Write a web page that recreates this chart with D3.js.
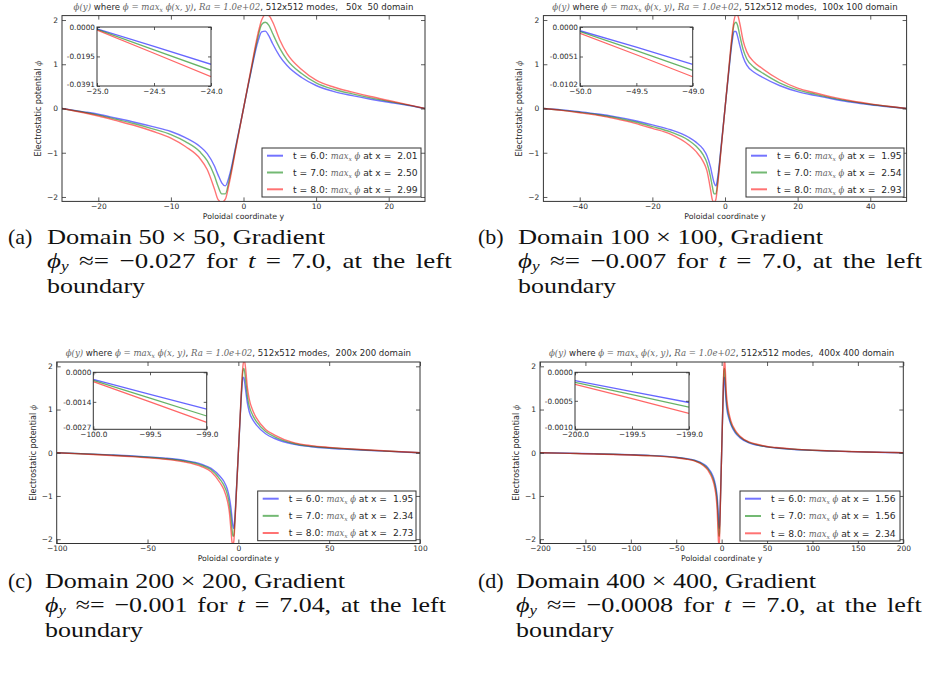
<!DOCTYPE html>
<html><head><meta charset="utf-8">
<script src="https://cdn.jsdelivr.net/npm/d3@7"></script>
<style>body{margin:0;background:#fff} text{white-space:pre}</style>
</head><body>
<script>
// ---------------- DATA ----------------
const timeLabels = ["6.0", "7.0", "8.0"];
const yTicks = [-2, -1, 0, 1, 2];

// (a) 50x50
const yA = [-25,-22,-20,-17.5,-15,-12.5,-10,-8,-6,-5,-4,-3.5,-3,-2.5,-2,-1,0,1,2,2.5,3,3.5,4,5,6,8,10,12.5,15,17.5,20,22,25];
const a_t6 = [0,-0.075,-0.13,-0.22,-0.31,-0.41,-0.52,-0.66,-0.86,-1.02,-1.3,-1.5,-1.68,-1.75,-1.55,-0.8,0,0.8,1.52,1.73,1.75,1.64,1.47,1.18,0.97,0.70,0.52,0.38,0.29,0.21,0.14,0.09,0];
const a_t7 = [0,-0.085,-0.15,-0.245,-0.345,-0.46,-0.59,-0.75,-0.98,-1.18,-1.52,-1.76,-1.93,-1.93,-1.64,-0.83,0,0.83,1.62,1.9,1.95,1.88,1.7,1.36,1.1,0.79,0.58,0.43,0.33,0.24,0.16,0.10,0];
const a_t8 = [0,-0.097,-0.17,-0.275,-0.385,-0.515,-0.67,-0.86,-1.13,-1.38,-1.82,-2.06,-2.12,-2.05,-1.72,-0.86,0,0.86,1.7,2.0,2.12,2.1,1.96,1.55,1.24,0.88,0.64,0.48,0.37,0.27,0.18,0.11,0];
const xTicksA = [-20, -10, 0, 10, 20];
const insetXA = [-25, -24.5, -24];
const insetA_t6 = [-0.0012, -0.0129, -0.0247];
const insetA_t7 = [-0.0016, -0.0151, -0.0287];
const insetA_t8 = [-0.0020, -0.0174, -0.0329];
const insetYTicksA = [0, -0.0195, -0.0391];
const insetYLabelsA = ["0.0000", "-0.0195", "-0.0391"];
const xmaxA = ["2.01", "2.50", "2.99"];

// (b) 100x100
const yB = [-50,-45,-40,-35,-30,-25,-20,-15,-10,-8,-6,-5,-4,-3.5,-3,-2.5,-2,-1,0,1,2,2.5,3,3.5,4,5,6,8,10,15,20,25,30,35,40,45,50];
const b_t6 = [0,-0.032,-0.075,-0.125,-0.19,-0.27,-0.37,-0.48,-0.65,-0.76,-0.92,-1.06,-1.32,-1.51,-1.68,-1.75,-1.55,-0.8,0,0.8,1.53,1.74,1.74,1.62,1.45,1.16,0.98,0.82,0.72,0.52,0.38,0.29,0.21,0.14,0.085,0.04,0];
const b_t7 = [0,-0.037,-0.085,-0.14,-0.21,-0.3,-0.41,-0.53,-0.72,-0.85,-1.05,-1.22,-1.54,-1.76,-1.93,-1.93,-1.64,-0.83,0,0.83,1.62,1.9,1.95,1.87,1.68,1.33,1.12,0.93,0.82,0.58,0.42,0.32,0.23,0.155,0.095,0.045,0];
const b_t8 = [0,-0.042,-0.095,-0.155,-0.235,-0.33,-0.45,-0.58,-0.82,-0.97,-1.2,-1.4,-1.82,-2.06,-2.12,-2.05,-1.72,-0.86,0,0.86,1.7,2.0,2.12,2.1,1.95,1.53,1.28,1.05,0.92,0.65,0.46,0.35,0.25,0.17,0.105,0.05,0];
const xTicksB = [-40, -20, 0, 20, 40];
const insetXB = [-50, -49.5, -49];
const insetB_t6 = [-0.00064, -0.0035, -0.00645];
const insetB_t7 = [-0.0008, -0.0041, -0.0075];
const insetB_t8 = [-0.0011, -0.0048, -0.0086];
const insetYTicksB = [0, -0.0051, -0.0102];
const insetYLabelsB = ["0.0000", "-0.0051", "-0.0102"];
const xmaxB = ["1.95", "2.54", "2.93"];

// (c) 200x200
const yC = [-100,-90,-80,-70,-60,-50,-40,-30,-20,-15,-10,-8,-6,-5,-4,-3.5,-3,-2.5,-2,-1,0,1,2,2.5,3,3.5,4,5,6,8,10,15,20,30,40,50,60,70,80,90,100];
const c_t6 = [0,-0.015,-0.032,-0.05,-0.07,-0.095,-0.125,-0.175,-0.27,-0.36,-0.55,-0.66,-0.85,-1.02,-1.3,-1.5,-1.68,-1.75,-1.55,-0.8,0,0.8,1.53,1.74,1.74,1.62,1.45,1.14,0.95,0.76,0.64,0.44,0.33,0.2,0.14,0.105,0.08,0.058,0.038,0.019,0];
const c_t7 = [0,-0.017,-0.036,-0.056,-0.078,-0.105,-0.138,-0.19,-0.295,-0.395,-0.62,-0.75,-0.97,-1.18,-1.52,-1.76,-1.93,-1.93,-1.64,-0.83,0,0.83,1.62,1.9,1.95,1.87,1.68,1.3,1.08,0.86,0.72,0.49,0.37,0.22,0.15,0.115,0.088,0.064,0.042,0.021,0];
const c_t8 = [0,-0.02,-0.041,-0.063,-0.087,-0.115,-0.152,-0.21,-0.325,-0.44,-0.70,-0.85,-1.12,-1.36,-1.82,-2.06,-2.12,-2.05,-1.72,-0.86,0,0.86,1.7,2.0,2.12,2.1,1.95,1.5,1.24,0.97,0.8,0.54,0.41,0.24,0.165,0.125,0.095,0.07,0.046,0.023,0];
const xTicksC = [-100, -50, 0, 50, 100];
const insetXC = [-100, -99.5, -99];
const insetC_t6 = [-0.00033, -0.00104, -0.00175];
const insetC_t7 = [-0.00038, -0.00122, -0.00207];
const insetC_t8 = [-0.00044, -0.0014, -0.00237];
const insetYTicksC = [0, -0.0014, -0.0027];
const insetYLabelsC = ["0.0000", "-0.0014", "-0.0027"];
const xmaxC = ["1.95", "2.34", "2.73"];

// (d) 400x400
const yD = [-200,-180,-160,-140,-120,-100,-80,-60,-50,-40,-30,-20,-15,-10,-8,-6,-5,-4,-3.5,-3,-2.5,-2,-1,0,1,2,2.5,3,3.5,4,5,6,8,10,15,20,30,40,50,60,80,100,120,140,160,180,200];
const d_t6 = [0,-0.007,-0.015,-0.023,-0.033,-0.045,-0.06,-0.085,-0.105,-0.13,-0.17,-0.26,-0.35,-0.52,-0.64,-0.84,-1.0,-1.29,-1.5,-1.68,-1.75,-1.55,-0.8,0,0.8,1.53,1.74,1.74,1.62,1.45,1.15,0.97,0.79,0.66,0.46,0.35,0.23,0.17,0.135,0.11,0.075,0.055,0.04,0.027,0.016,0.007,0];
const d_t7 = [0,-0.008,-0.017,-0.026,-0.036,-0.049,-0.065,-0.09,-0.11,-0.14,-0.18,-0.28,-0.38,-0.57,-0.70,-0.92,-1.12,-1.5,-1.76,-1.93,-1.93,-1.64,-0.83,0,0.83,1.62,1.9,1.95,1.87,1.68,1.28,1.07,0.85,0.7,0.49,0.37,0.24,0.18,0.14,0.115,0.08,0.058,0.042,0.029,0.017,0.008,0];
const d_t8 = [0,-0.009,-0.019,-0.029,-0.04,-0.053,-0.07,-0.095,-0.115,-0.145,-0.19,-0.3,-0.41,-0.62,-0.77,-1.04,-1.3,-1.82,-2.06,-2.12,-2.05,-1.72,-0.86,0,0.86,1.7,2.0,2.12,2.1,1.94,1.45,1.19,0.92,0.75,0.52,0.39,0.25,0.19,0.145,0.12,0.083,0.06,0.044,0.03,0.018,0.009,0];
const xTicksD = [-200, -150, -100, -50, 0, 50, 100, 150, 200];
const insetXD = [-200, -199.5, -199];
const insetD_t6 = [-0.000146, -0.00034, -0.00053];
const insetD_t7 = [-0.000175, -0.00039, -0.00061];
const insetD_t8 = [-0.00021, -0.00046, -0.00072];
const insetYTicksD = [0, -0.0005, -0.0010];
const insetYLabelsD = ["0.0000", "-0.0005", "-0.0010"];
const xmaxD = ["1.56", "1.56", "2.34"];

const domainLabels = ["  50x  50", " 100x 100", " 200x 200", " 400x 400"];
const captionLetters = ["(a)", "(b)", "(c)", "(d)"];
const captionLine1 = ["Domain 50 \u00d7 50, Gradient", "Domain 100 \u00d7 100, Gradient", "Domain 200 \u00d7 200, Gradient", "Domain 400 \u00d7 400, Gradient"];
const captionGrad = ["\u22120.027", "\u22120.007", "\u22120.001", "\u22120.0008"];
const captionT = ["7.0", "7.0", "7.04", "7.0"];

// ---------------- LAYOUT ----------------
const W = 935, H = 673;
const SANS = "'DejaVu Sans', sans-serif";
const MATH = "'DejaVu Serif', serif";
const CAP = "'Liberation Serif', serif";
const TXT = "#2a2a2a", MTXT = "#666";
const colors = ["#0000ff", "#008000", "#ff0000"];
const yDomain = [-2.1, 2.1];

const layouts = [
  {id:"a", x0:62, x1:425, y0:15.6, y1:201.4, ix0:97, ix1:211, iy0:27, iy1:86, lx0:262, lx1:421, ly0:148, ly1:197, cx:8, cx2:47, cy:244, w1:278, w2:405},
  {id:"b", x0:543.4, x1:906.6, y0:15.6, y1:201.4, ix0:580, ix1:692.7, iy0:27, iy1:86, lx0:746, lx1:904, ly0:148, ly1:197, cx:478, cx2:518, cy:244, w1:305, w2:404},
  {id:"c", x0:56.7, x1:420, y0:362, y1:543.5, ix0:93.3, ix1:206.7, iy0:372.3, iy1:429.3, lx0:257.7, lx1:416, ly0:491, ly1:540.7, cx:8, cx2:45, cy:588, w1:300, w2:401},
  {id:"d", x0:540, x1:903.3, y0:362, y1:543.5, ix0:575, ix1:689, iy0:372.3, iy1:429.3, lx0:740, lx1:900, ly0:491, ly1:541, cx:478, cx2:516, cy:588, w1:300, w2:406}
];

const panelData = [
  {xs:yA, series:[a_t6,a_t7,a_t8], xTicks:xTicksA, ixs:insetXA, iseries:[insetA_t6,insetA_t7,insetA_t8], iyTicks:insetYTicksA, iyLabels:insetYLabelsA, xmax:xmaxA},
  {xs:yB, series:[b_t6,b_t7,b_t8], xTicks:xTicksB, ixs:insetXB, iseries:[insetB_t6,insetB_t7,insetB_t8], iyTicks:insetYTicksB, iyLabels:insetYLabelsB, xmax:xmaxB},
  {xs:yC, series:[c_t6,c_t7,c_t8], xTicks:xTicksC, ixs:insetXC, iseries:[insetC_t6,insetC_t7,insetC_t8], iyTicks:insetYTicksC, iyLabels:insetYLabelsC, xmax:xmaxC},
  {xs:yD, series:[d_t6,d_t7,d_t8], xTicks:xTicksD, ixs:insetXD, iseries:[insetD_t6,insetD_t7,insetD_t8], iyTicks:insetYTicksD, iyLabels:insetYLabelsD, xmax:xmaxD}
];

const svg = d3.select("body").append("svg").attr("width", W).attr("height", H);
const defs = svg.append("defs");

function styleAxis(sel, fs) {
  sel.select(".domain").remove();
  sel.selectAll(".tick line").attr("stroke", "#333").attr("stroke-width", 0.8);
  sel.selectAll(".tick text").attr("font-family", SANS).attr("font-size", fs).attr("fill", TXT);
  sel.attr("font-family", null).attr("font-size", null);
  return sel;
}

function drawPanel(L, P, idx) {
  const g = svg.append("g");
  const x = d3.scaleLinear().domain(d3.extent(P.xs)).range([L.x0, L.x1]);
  const y = d3.scaleLinear().domain(yDomain).range([L.y1, L.y0]);
  const cid = "clip-" + L.id;
  defs.append("clipPath").attr("id", cid).append("rect")
    .attr("x", L.x0).attr("y", L.y0).attr("width", L.x1 - L.x0).attr("height", L.y1 - L.y0);

  const line = d3.line().x((d, i) => x(P.xs[i])).y(d => y(d)).curve(d3.curveMonotoneX);
  const cg = g.append("g").attr("clip-path", `url(#${cid})`);
  P.series.forEach((s, k) => {
    cg.append("path").attr("d", line(s)).attr("fill", "none")
      .attr("stroke", colors[k]).attr("stroke-opacity", 0.55).attr("stroke-width", 1.4);
  });

  const fmt = d3.format("d");
  styleAxis(g.append("g").attr("transform", `translate(0,${L.y1})`)
    .call(d3.axisBottom(x).tickValues(P.xTicks).tickSize(-4).tickPadding(2).tickFormat(fmt)), 7.5);
  styleAxis(g.append("g").attr("transform", `translate(0,${L.y0})`)
    .call(d3.axisTop(x).tickValues(P.xTicks).tickSize(-4).tickFormat("")), 7.5);
  styleAxis(g.append("g").attr("transform", `translate(${L.x0},0)`)
    .call(d3.axisLeft(y).tickValues(yTicks).tickSize(-4).tickPadding(4).tickFormat(fmt)), 7.5);
  styleAxis(g.append("g").attr("transform", `translate(${L.x1},0)`)
    .call(d3.axisRight(y).tickValues(yTicks).tickSize(-4).tickFormat("")), 7.5);

  g.append("rect").attr("x", L.x0).attr("y", L.y0).attr("width", L.x1 - L.x0).attr("height", L.y1 - L.y0)
    .attr("fill", "none").attr("stroke", "#333").attr("stroke-width", 1);

  // title
  const cxm = (L.x0 + L.x1) / 2;
  const t = g.append("text").attr("x", cxm).attr("y", L.y0 - 6).attr("text-anchor", "middle")
    .attr("font-family", SANS).attr("font-size", 8.6).attr("fill", TXT);
  const m = (s) => t.append("tspan").attr("font-family", MATH).attr("font-style", "italic").attr("fill", MTXT).text(s);
  m("\u03d5(y)");
  t.append("tspan").text(" where ");
  m("\u03d5 = max");
  t.append("tspan").attr("font-family", MATH).attr("font-style", "italic").attr("fill", MTXT).attr("font-size", 6.1).attr("dy", 2).text("x");
  t.append("tspan").attr("font-family", MATH).attr("font-style", "italic").attr("fill", MTXT).attr("dy", -2).text(" \u03d5(x, y)");
  t.append("tspan").text(", ");
  m("Ra = 1.0e+02");
  t.append("tspan").text(", 512x512 modes, " + domainLabels[idx] + " domain");

  // axis labels
  g.append("text").attr("x", cxm).attr("y", L.y1 + 17.5).attr("text-anchor", "middle")
    .attr("font-family", SANS).attr("font-size", 7.8).attr("fill", TXT).text("Poloidal coordinate y");
  const yl = g.append("text").attr("transform", `translate(${L.x0 - 21},${(L.y0 + L.y1) / 2}) rotate(-90)`)
    .attr("text-anchor", "middle").attr("font-family", SANS).attr("font-size", 8).attr("fill", TXT);
  yl.append("tspan").text("Electrostatic potential ");
  yl.append("tspan").attr("font-family", MATH).attr("font-style", "italic").attr("fill", MTXT).text("\u03d5");

  // inset
  const ix = d3.scaleLinear().domain(d3.extent(P.ixs)).range([L.ix0, L.ix1]);
  const iy = d3.scaleLinear().domain([P.iyTicks[2], P.iyTicks[0]]).range([L.iy1, L.iy0]);
  g.append("rect").attr("x", L.ix0).attr("y", L.iy0).attr("width", L.ix1 - L.ix0).attr("height", L.iy1 - L.iy0).attr("fill", "#fff");
  const icid = "iclip-" + L.id;
  defs.append("clipPath").attr("id", icid).append("rect")
    .attr("x", L.ix0).attr("y", L.iy0).attr("width", L.ix1 - L.ix0).attr("height", L.iy1 - L.iy0);
  const iline = d3.line().x((d, i) => ix(P.ixs[i])).y(d => iy(d));
  const icg = g.append("g").attr("clip-path", `url(#${icid})`);
  P.iseries.forEach((s, k) => {
    icg.append("path").attr("d", iline(s)).attr("fill", "none")
      .attr("stroke", colors[k]).attr("stroke-opacity", 0.6).attr("stroke-width", 1.3);
  });
  const f1 = d3.format(".1f");
  styleAxis(g.append("g").attr("transform", `translate(0,${L.iy1})`)
    .call(d3.axisBottom(ix).tickValues(P.ixs).tickSize(-3).tickPadding(3).tickFormat(f1)), 7.3);
  styleAxis(g.append("g").attr("transform", `translate(0,${L.iy0})`)
    .call(d3.axisTop(ix).tickValues(P.ixs).tickSize(-3).tickFormat("")), 7.3);
  const iyAxis = styleAxis(g.append("g").attr("transform", `translate(${L.ix0},0)`)
    .call(d3.axisLeft(iy).tickValues(P.iyTicks).tickSize(-3).tickPadding(2).tickFormat((d, i) => P.iyLabels[i])), 7.3);
  iyAxis.selectAll(".tick text").filter((d, i) => i === 2).attr("dy", "0.05em");
  styleAxis(g.append("g").attr("transform", `translate(${L.ix1},0)`)
    .call(d3.axisRight(iy).tickValues(P.iyTicks).tickSize(-3).tickFormat("")), 7.3);
  g.append("rect").attr("x", L.ix0).attr("y", L.iy0).attr("width", L.ix1 - L.ix0).attr("height", L.iy1 - L.iy0)
    .attr("fill", "none").attr("stroke", "#333").attr("stroke-width", 1);

  // legend
  g.append("rect").attr("x", L.lx0).attr("y", L.ly0).attr("width", L.lx1 - L.lx0).attr("height", L.ly1 - L.ly0)
    .attr("fill", "#fff").attr("stroke", "#333").attr("stroke-width", 1);
  const step = (L.ly1 - L.ly0 - 15.4) / 2;
  timeLabels.forEach((tl, k) => {
    const ly = L.ly0 + 7.7 + k * step;
    g.append("line").attr("x1", L.lx0 + 5).attr("x2", L.lx0 + 21).attr("y1", ly).attr("y2", ly)
      .attr("stroke", colors[k]).attr("stroke-opacity", 0.55).attr("stroke-width", 2);
    const lt = g.append("text").attr("x", L.lx0 + 31).attr("y", ly + 3.3)
      .attr("font-family", SANS).attr("font-size", 9.2).attr("fill", TXT);
    lt.append("tspan").text("t = " + tl + ": ");
    lt.append("tspan").attr("font-family", MATH).attr("font-style", "italic").attr("fill", MTXT).attr("font-size", 8.4).text("max");
    lt.append("tspan").attr("font-family", MATH).attr("font-style", "italic").attr("fill", MTXT).attr("font-size", 6).attr("dy", 2).text("x");
    lt.append("tspan").attr("font-family", MATH).attr("font-style", "italic").attr("fill", MTXT).attr("font-size", 8.4).attr("dy", -2).text(" \u03d5");
    lt.append("tspan").text(" at x =  " + P.xmax[k]);
  });

  // caption
  const cap = svg.append("g").attr("font-family", CAP).attr("font-size", 22).attr("fill", "#111");
  cap.append("text").attr("x", L.cx).attr("y", L.cy).text(captionLetters[idx]);
  cap.append("text").attr("x", L.cx2).attr("y", L.cy).attr("textLength", L.w1).attr("lengthAdjust", "spacingAndGlyphs").text(captionLine1[idx]);
  const g2 = cap.append("g");
  const l2 = g2.append("text").attr("x", 0).attr("y", 0).attr("word-spacing", 3);
  l2.append("tspan").attr("font-style", "italic").text("\u03d5");
  l2.append("tspan").attr("font-style", "italic").attr("font-size", 14).attr("dy", 3).text("y");
  l2.append("tspan").attr("dy", -3).text(" \u2248= " + captionGrad[idx] + " for ");
  l2.append("tspan").attr("font-style", "italic").text("t");
  l2.append("tspan").text(" = " + captionT[idx] + ", at the left");
  const s2 = L.w2 / l2.node().getComputedTextLength();
  g2.attr("transform", `translate(${L.cx2},${L.cy + 24}) scale(${s2},1)`);
  cap.append("text").attr("x", L.cx2).attr("y", L.cy + 49).attr("textLength", 98).attr("lengthAdjust", "spacingAndGlyphs").text("boundary");
}

layouts.forEach((L, i) => drawPanel(L, panelData[i], i));
</script>
</body></html>
